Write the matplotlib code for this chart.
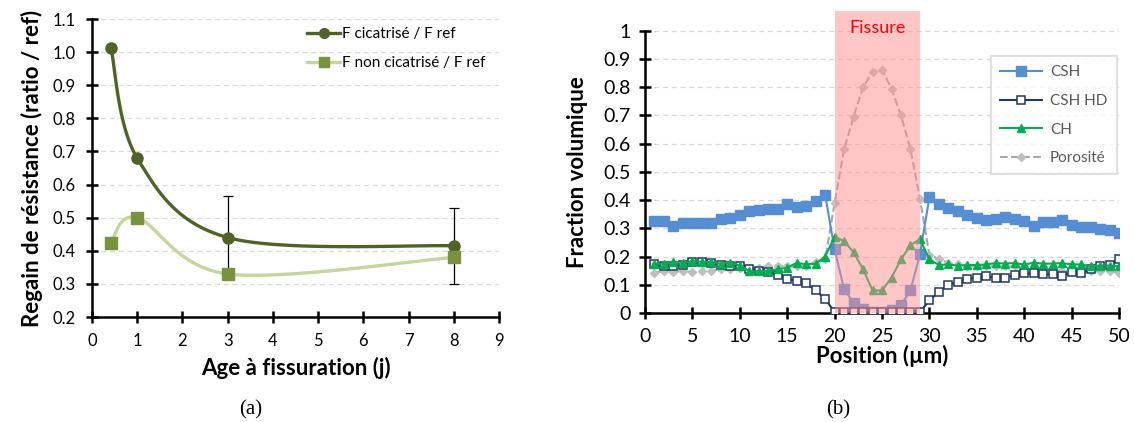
import numpy as np
import matplotlib.pyplot as plt

# ---- data panel (a) ----
age = [0.42, 1, 3, 8]
f_cicatrise = [1.012, 0.68, 0.44, 0.415]
f_non_cicatrise = [0.425, 0.50, 0.33, 0.38]
err_cicatrise = [0, 0, 0.125, 0.115]

# ---- data panel (b) ----
position = list(range(1, 51))
csh = [0.325, 0.325, 0.310, 0.318, 0.318, 0.318, 0.318, 0.332, 0.337, 0.348,
       0.360, 0.365, 0.367, 0.370, 0.385, 0.377, 0.378, 0.398, 0.418, 0.225,
       0.085, 0.035, 0.015, 0.005, 0.003, 0.010, 0.030, 0.080, 0.208, 0.410,
       0.387, 0.373, 0.360, 0.347, 0.338, 0.330, 0.333, 0.340, 0.333, 0.325,
       0.310, 0.323, 0.323, 0.328, 0.312, 0.305, 0.305, 0.297, 0.295, 0.285]
csh_hd = [0.172, 0.165, 0.165, 0.170, 0.180, 0.180, 0.178, 0.170, 0.168, 0.165,
          0.155, 0.150, 0.145, 0.135, 0.120, 0.115, 0.105, 0.080, 0.050, 0.003,
          0.002, 0.002, 0.002, 0.002, 0.002, 0.002, 0.002, 0.002, 0.003, 0.045,
          0.075, 0.100, 0.110, 0.120, 0.125, 0.130, 0.125, 0.125, 0.135, 0.140,
          0.140, 0.137, 0.137, 0.130, 0.145, 0.140, 0.155, 0.165, 0.170, 0.190]
ch = [0.175, 0.175, 0.180, 0.178, 0.183, 0.182, 0.180, 0.175, 0.178, 0.168,
      0.148, 0.148, 0.150, 0.155, 0.160, 0.178, 0.172, 0.175, 0.200, 0.270,
      0.255, 0.215, 0.155, 0.080, 0.080, 0.125, 0.190, 0.240, 0.262, 0.190,
      0.170, 0.172, 0.168, 0.170, 0.170, 0.172, 0.177, 0.175, 0.177, 0.172,
      0.178, 0.175, 0.175, 0.177, 0.172, 0.172, 0.165, 0.168, 0.168, 0.165]
porosite = [0.143, 0.148, 0.147, 0.148, 0.145, 0.148, 0.150, 0.155, 0.155, 0.160,
            0.160, 0.158, 0.168, 0.168, 0.165, 0.165, 0.168, 0.180, 0.190, 0.390,
            0.580, 0.695, 0.800, 0.855, 0.862, 0.795, 0.700, 0.580, 0.405, 0.205,
            0.192, 0.178, 0.172, 0.168, 0.165, 0.165, 0.165, 0.165, 0.165, 0.160,
            0.158, 0.158, 0.155, 0.148, 0.145, 0.148, 0.148, 0.150, 0.150, 0.142]
fissure_start, fissure_end = 20, 29


def excel_smooth(x, y, n=40):
    # Bezier smoothing like Excel "smoothed line"
    p = np.column_stack([x, y]).astype(float)
    pts = np.vstack([p[0], p, p[-1]])
    out = []
    t = np.linspace(0, 1, n)[:, None]
    for i in range(1, len(pts) - 2):
        p0, p1, p2, p3 = pts[i - 1], pts[i], pts[i + 1], pts[i + 2]
        c1 = p1 + (p2 - p0) / 6
        c2 = p2 - (p3 - p1) / 6
        seg = ((1 - t) ** 3) * p1 + 3 * ((1 - t) ** 2) * t * c1 + 3 * (1 - t) * t ** 2 * c2 + t ** 3 * p2
        out.append(seg)
    out = np.vstack(out)
    return out[:, 0], out[:, 1]


plt.rcParams['font.family'] = ['Lato', 'DejaVu Sans']
fig = plt.figure(figsize=(11.34, 4.22), dpi=100)

# ---------------- panel (a) ----------------
ax1 = fig.add_axes([0.0811, 0.2488, 0.359, 0.706])
dark = '#4F6228'
light_line = '#C3D69B'
light_mk = '#77933C'

xs, ys = excel_smooth(age, f_cicatrise)
ax1.plot(xs, ys, color=dark, lw=2.4, zorder=3)
ax1.plot(age, f_cicatrise, 'o', color=dark, ms=8, zorder=4)
ax1.errorbar(age, f_cicatrise, yerr=err_cicatrise, fmt='none', ecolor='black',
             elinewidth=0.9, capsize=3.5, capthick=0.9, zorder=2)
xs, ys = excel_smooth(age, f_non_cicatrise)
ax1.plot(xs, ys, color=light_line, lw=2.4, zorder=3)
ax1.plot(age, f_non_cicatrise, 's', color=light_mk, ms=8, zorder=4)

ax1.plot([], [], '-o', color=dark, lw=2.4, ms=7, label='F cicatrisé / F ref')
ax1.plot([], [], '-s', color=light_line, mfc=light_mk, mec=light_mk, lw=2.4, ms=7,
         label='F non cicatrisé / F ref')
ax1.legend(loc='upper right', bbox_to_anchor=(1.0, 1.02), frameon=False, fontsize=11,
           handlelength=2.2, handletextpad=0.1, labelspacing=1.0)

ax1.set_xlim(0, 9)
ax1.set_ylim(0.2, 1.1)
ax1.set_xticks(range(0, 10))
ax1.set_yticks(np.arange(0.2, 1.11, 0.1))
ax1.set_yticklabels([f'{v:.1f}' for v in np.arange(0.2, 1.11, 0.1)])
ax1.tick_params(direction='inout', length=9, width=1.8, labelsize=12, pad=7)
for s in ['top', 'right']:
    ax1.spines[s].set_visible(False)
for s in ['left', 'bottom']:
    ax1.spines[s].set_linewidth(1.8)
ax1.grid(axis='y', ls=(0, (4, 3)), color='#D9D9D9', lw=0.9)
ax1.set_axisbelow(True)
ax1.set_xlabel('Age à fissuration (j)', fontsize=16, fontweight='bold', labelpad=6)
ax1.set_ylabel('Regain de résistance (ratio / ref)', fontsize=16, fontweight='bold', labelpad=7)
fig.text(251 / 1134, 1 - 410 / 422, '(a)', ha='center', va='center',
         fontsize=15, family='Liberation Serif')

# ---------------- panel (b) ----------------
ax2 = fig.add_axes([0.5688, 0.2583, 0.418, 0.7156])
ax2.plot(position, csh, '-s', color='#558ED5', lw=1.5, ms=6.5, label='CSH', zorder=3)
ax2.plot(position, csh_hd, '-s', color='#1F3864', mfc='white', mew=1.1, lw=1.5, ms=5.5,
         label='CSH HD', zorder=3)
ax2.plot(position, ch, '-^', color='#00B050', lw=1.5, ms=5.5, label='CH', zorder=3)
ax2.plot(position, porosite, '--D', color='#A6A6A6', mfc='#BFBFBF', mec='#BFBFBF',
         lw=1.5, ms=4.5, label='Porosité', zorder=2)
ax2.axvspan(fissure_start, fissure_end, color='#FF8F8F', alpha=0.5, lw=0, zorder=5)
ax2.text((fissure_start + fissure_end) / 2, 1.01, 'Fissure', color='#FF0000',
         ha='center', va='center', fontsize=13, zorder=6)

leg = ax2.legend(loc='upper right', bbox_to_anchor=(0.995, 0.85), fontsize=11,
                 handlelength=2.8, handletextpad=0.5, labelspacing=0.95,
                 fancybox=False, borderpad=0.6, borderaxespad=0)
leg.get_frame().set_edgecolor('#D9D9D9')
leg.get_frame().set_linewidth(1.5)
for t in leg.get_texts():
    t.set_color('#595959')

ax2.set_xlim(0, 50)
ax2.set_ylim(0, 1.07)
ax2.spines['left'].set_bounds(0, 1)
ax2.set_xticks(range(0, 51, 5))
yt = np.arange(0, 1.01, 0.1)
ax2.set_yticks(yt)
ax2.set_yticklabels(['0'] + [f'{v:.1f}' for v in yt[1:-1]] + ['1'])
ax2.tick_params(direction='inout', length=9, width=1.8, labelsize=14, pad=6)
for s in ['top', 'right']:
    ax2.spines[s].set_visible(False)
for s in ['left', 'bottom']:
    ax2.spines[s].set_linewidth(1.8)
ax2.grid(axis='y', ls=(0, (4, 3)), color='#D9D9D9', lw=0.9)
ax2.set_axisbelow(True)
ax2.set_xlabel('Position (µm)', fontsize=16, fontweight='bold', labelpad=0)
ax2.set_ylabel('Fraction volumique', fontsize=16, fontweight='bold', labelpad=6)
ax2.yaxis.set_label_coords(-0.12, 0.5 / 1.07)
fig.text(838 / 1134, 1 - 410 / 422, '(b)', ha='center', va='center',
         fontsize=15, family='Liberation Serif')

fig.savefig('out.png', dpi=100)
